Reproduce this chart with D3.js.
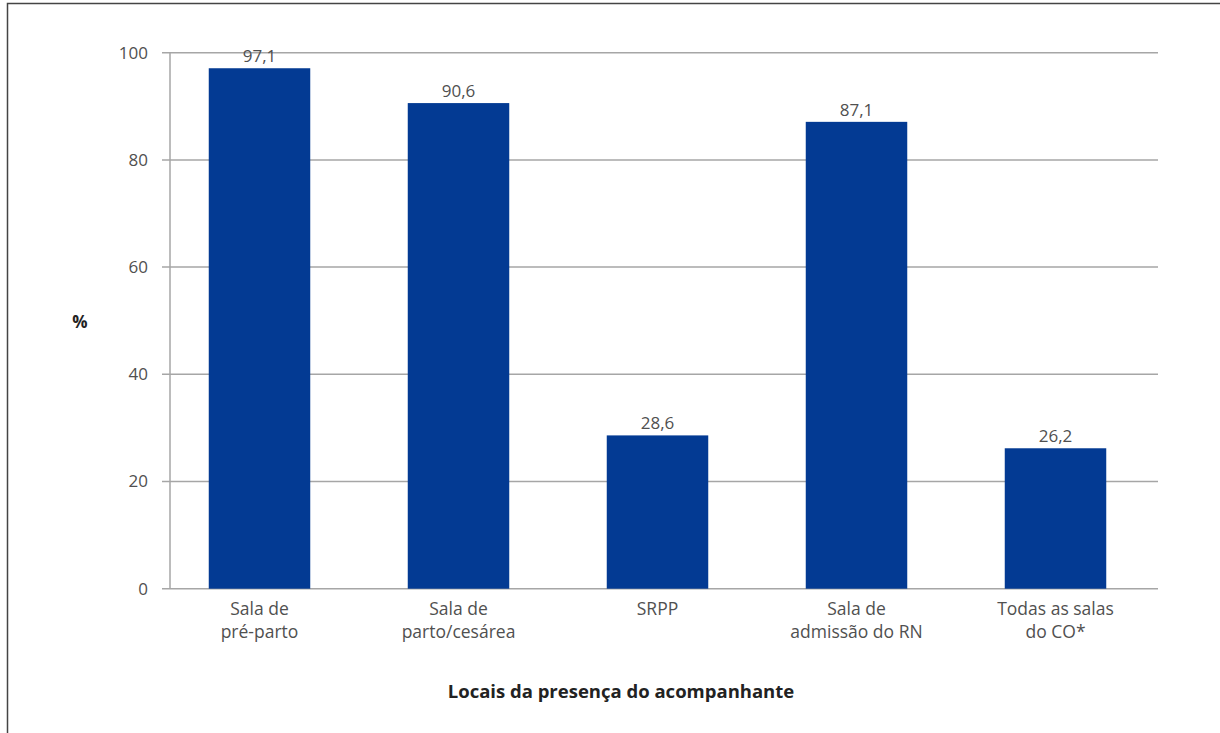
<!DOCTYPE html>
<html>
<head>
<meta charset="utf-8">
<script src="https://cdn.jsdelivr.net/npm/d3@7"></script>
<style>
  body { margin: 0; background: #fff; }
  svg { display: block; font-family: "Open Sans", sans-serif; }
</style>
</head>
<body>
<div id="chart"></div>
<script>
// dados
const categories = [
    ["Sala de", "pré-parto"],
    ["Sala de", "parto/cesárea"],
    ["SRPP"],
    ["Sala de", "admissão do RN"],
    ["Todas as salas", "do CO*"]
];
const values = [97.1, 90.6, 28.6, 87.1, 26.2];
const yTicks = [0, 20, 40, 60, 80, 100];

const W = 1220, H = 733;
const svg = d3.select("#chart").append("svg")
    .attr("width", W)
    .attr("height", H);

// moldura
svg.append("path")
    .attr("d", `M7.5,${H} V3.5 H${W}`)
    .attr("fill", "none")
    .attr("stroke", "#444")
    .attr("stroke-width", 1.5);

const x = d3.scaleBand()
    .domain(d3.range(values.length))
    .range([160, 1155])
    .paddingInner(0.49)
    .paddingOuter(0.245);

const y = d3.scaleLinear().domain([0, 100]).range([588.7, 52.7]);

const axisLeft = 170, gridRight = 1158;

// grade
svg.append("g")
    .selectAll("line")
    .data(yTicks)
    .join("line")
    .attr("x1", 162)
    .attr("x2", gridRight)
    .attr("y1", d => y(d))
    .attr("y2", d => y(d))
    .attr("stroke", "#a6a6a6")
    .attr("stroke-width", 1.5);

svg.append("line")
    .attr("x1", axisLeft).attr("x2", axisLeft)
    .attr("y1", y(100)).attr("y2", y(0))
    .attr("stroke", "#a6a6a6")
    .attr("stroke-width", 1.5);

// rótulos do eixo y
svg.append("g")
    .selectAll("text")
    .data(yTicks)
    .join("text")
    .attr("x", 148)
    .attr("y", d => y(d))
    .attr("dy", "0.35em")
    .attr("text-anchor", "end")
    .attr("font-size", 17)
    .attr("fill", "#505050")
    .text(d => d);

// barras
svg.append("g")
    .selectAll("rect")
    .data(values)
    .join("rect")
    .attr("x", (d, i) => x(i))
    .attr("y", d => y(d))
    .attr("width", x.bandwidth())
    .attr("height", d => y(0) - y(d))
    .attr("fill", "#033a93");

// valores
svg.append("g")
    .selectAll("text")
    .data(values)
    .join("text")
    .attr("x", (d, i) => x(i) + x.bandwidth() / 2)
    .attr("y", d => y(d) - 6)
    .attr("text-anchor", "middle")
    .attr("font-size", 17)
    .attr("fill", "#505050")
    .text(d => d.toFixed(1).replace(".", ","));

// categorias
const cat = svg.append("g")
    .selectAll("text")
    .data(categories)
    .join("text")
    .attr("text-anchor", "middle")
    .attr("font-size", 17.5)
    .attr("fill", "#505050");

cat.selectAll("tspan")
    .data((d, i) => d.map(t => ({ t, i })))
    .join("tspan")
    .attr("x", d => x(d.i) + x.bandwidth() / 2)
    .attr("y", (d, j) => 615 + j * 23)
    .text(d => d.t);

// títulos
svg.append("text")
    .attr("x", 621)
    .attr("y", 698)
    .attr("text-anchor", "middle")
    .attr("font-size", 18.5)
    .attr("font-weight", "bold")
    .attr("fill", "#222")
    .text("Locais da presença do acompanhante");

svg.append("text")
    .attr("x", 80)
    .attr("y", 328)
    .attr("text-anchor", "middle")
    .attr("font-size", 17)
    .attr("font-weight", "bold")
    .attr("fill", "#222")
    .text("%");
</script>
</body>
</html>
